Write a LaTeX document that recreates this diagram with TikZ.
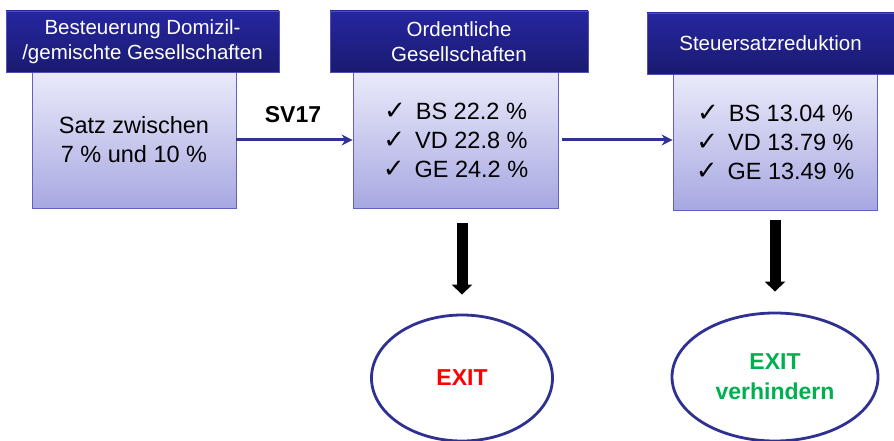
\documentclass[tikz,border=0pt]{standalone}
\usepackage{fontspec}
\setmainfont{Liberation Sans}
\newfontfamily\chkfont{DejaVu Sans}
\usetikzlibrary{arrows.meta,shapes.geometric}
\definecolor{hdtop}{RGB}{38,38,160}
\definecolor{hdbot}{RGB}{26,26,112}
\definecolor{hdline}{RGB}{80,80,176}
\definecolor{bdtop}{RGB}{234,234,250}
\definecolor{bdbot}{RGB}{168,168,226}
\definecolor{bdline}{RGB}{96,96,190}
\definecolor{flowc}{RGB}{50,50,150}
\definecolor{ellc}{RGB}{46,48,146}
\definecolor{exitgreen}{RGB}{0,176,80}
\newcommand{\tick}{{\chkfont\fontsize{26}{29}\selectfont ✓}\hspace{10pt}}

\begin{document}
\begin{tikzpicture}[x=1pt, y=-1pt,
  head/.style={draw=hdline, line width=0.8pt, top color=hdtop, bottom color=hdbot, text=white,
    align=center, inner sep=0pt, font=\fontsize{20.5}{25}\selectfont},
  body/.style={draw=bdline, line width=0.8pt, top color=bdtop, bottom color=bdbot,
    align=center, inner sep=0pt, font=\fontsize{23.5}{29}\selectfont},
  flow/.style={draw=flowc, line width=3pt, -{Stealth[length=11pt,width=11pt]}},
  drop/.style={line width=11pt, -{Triangle[length=10pt,width=20pt]}},
  exitnode/.style={ellipse, draw=ellc, line width=2.8pt, inner sep=0pt, align=center,
    font=\bfseries\fontsize{23}{30}\selectfont}]
  \useasboundingbox (0,0) rectangle (894,441);
  % bodies first, headers on top
  \node[body, minimum width=204pt, minimum height=136pt] (sz1) at (134,140)
    {Satz zwischen\\7 \% und 10 \%};
  \node[body, minimum width=205pt, minimum height=136pt] (sz2) at (455.5,140)
    {\tick BS 22.2 \%\\\tick VD 22.8 \%\\\tick GE 24.2 \%};
  \node[body, minimum width=204pt, minimum height=136pt] (sz3) at (775,142)
    {\tick BS 13.04 \%\\\tick VD 13.79 \%\\\tick GE 13.49 \%};
  \node[head, minimum width=273pt, minimum height=61pt] (hd1) at (142.5,41.5)
    {Besteuerung Domizil-\\/gemischte Gesellschaften};
  \node[head, minimum width=258pt, minimum height=61pt] (hd2) at (459,41.5)
    {Ordentliche\\Gesellschaften};
  \node[head, minimum width=247pt, minimum height=61pt] (hd3) at (770.5,43.5)
    {Steuersatzreduktion};
  % flow between the boxes
  \node[font=\bfseries\fontsize{23}{28}\selectfont] (sv) at (293,115) {SV17};
  \draw[flow] (sz1) -- (sz2);
  \draw[flow, shorten <=4pt] (sz2) -- (sz2 -| sz3.west);
  % exits
  \node[exitnode, minimum width=181pt, minimum height=126pt, text=red] (ex1) at (462,378) {EXIT};
  \node[exitnode, minimum width=206pt, minimum height=128pt, text=exitgreen] (ex2) at (775,377)
    {EXIT\\verhindern};
  \draw[drop, shorten <=15pt, shorten >=19pt] (ex1.north |- sz2.south) -- (ex1.north);
  \draw[drop, shorten <=10pt, shorten >=20pt] (ex2.north |- sz3.south) -- (ex2.north);
\end{tikzpicture}
\end{document}
